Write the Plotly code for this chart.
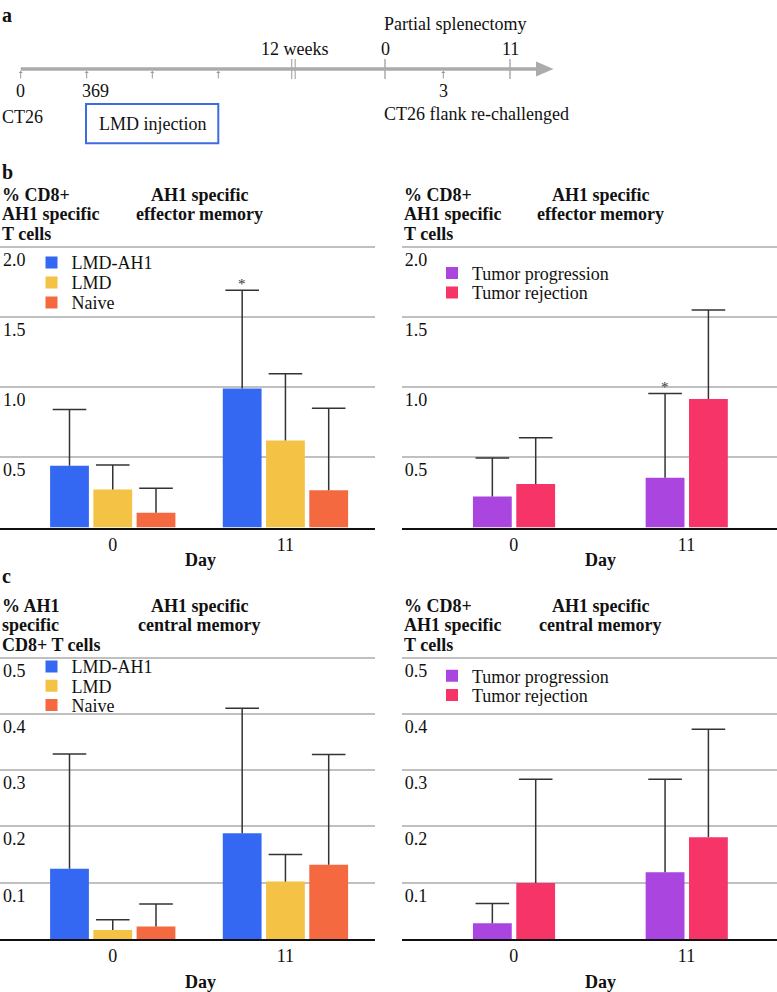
import plotly.graph_objects as go

W, H = 777, 992
FONT = "Liberation Serif"

# ---------------- data ----------------
days = ["0", "11"]

# panel b (effector memory, % CD8+ AH1 specific T cells)
b_groups = ["LMD-AH1", "LMD", "Naive"]
b_vals = [[0.44, 0.99], [0.27, 0.62], [0.105, 0.265]]
b_errs = [[0.40, 0.70], [0.175, 0.475], [0.175, 0.585]]

b2_groups = ["Tumor progression", "Tumor rejection"]
b2_vals = [[0.22, 0.355], [0.31, 0.915]]
b2_errs = [[0.275, 0.60], [0.33, 0.635]]

# panel c (central memory)
c_groups = ["LMD-AH1", "LMD", "Naive"]
c_vals = [[0.125, 0.188], [0.016, 0.102], [0.022, 0.132]]
c_errs = [[0.204, 0.222], [0.018, 0.048], [0.040, 0.196]]

c2_groups = ["Tumor progression", "Tumor rejection"]
c2_vals = [[0.028, 0.1185], [0.0995, 0.181]]
c2_errs = [[0.035, 0.1655], [0.1845, 0.192]]

b_ticks = [0.5, 1.0, 1.5, 2.0]
c_ticks = [0.1, 0.2, 0.3, 0.4, 0.5]

# timeline schematic (panel a)
inj_labels = ["0", "", "", ""]
post_labels = ["0", "11"]

# ---------------- styles ----------------
COL3 = ["#3468F2", "#F4C245", "#F4693F"]
COL2 = ["#AB45E0", "#F63467"]
OFF3 = [-0.3625, -0.112, 0.1385]
OFF2 = [-0.2365, 0.0145]
BW = 0.2247
ERRC = "#333333"
IDX = list(range(len(days)))


def xp(px):
    return px / W


def yp(py):
    return 1 - py / H


fig = go.Figure()
legend_defs = {}
leg_counter = [0]

leg_common = dict(bgcolor="rgba(0,0,0,0)", font=dict(family=FONT, size=18, color="#111"),
                  xanchor="left", yanchor="top", tracegroupgap=0, borderwidth=0)


def new_legend(x_px, center_px):
    leg_counter[0] += 1
    key = "legend" if leg_counter[0] == 1 else "legend%d" % leg_counter[0]
    legend_defs[key] = dict(x=xp(x_px), y=yp(center_px - 18.5), **leg_common)
    return key


def add_bars(groups, vals, errs, colors, offs, xa, ya, leg_x, leg_y0, leg_dy):
    for k, (g, v, e, c, o) in enumerate(zip(groups, vals, errs, colors, offs)):
        key = new_legend(leg_x, leg_y0 + k * leg_dy)
        fig.add_trace(go.Bar(
            x=IDX, y=v, name=g, marker=dict(color=c, line=dict(width=0)),
            width=BW, offset=o, xaxis=xa, yaxis=ya, legend=key,
            error_y=dict(type="data", symmetric=False, array=e,
                         arrayminus=[0] * len(e), color=ERRC,
                         thickness=1.5, width=0),
        ))
        # error-bar caps at the top end only
        fig.add_trace(go.Scatter(
            x=[i + o + BW / 2 for i in IDX], y=[a + b for a, b in zip(v, e)],
            mode="markers", xaxis=xa, yaxis=ya, showlegend=False, hoverinfo="skip",
            marker=dict(symbol="line-ew", size=24, color=ERRC,
                        line=dict(color=ERRC, width=1.5)),
        ))


add_bars(b_groups, b_vals, b_errs, COL3, OFF3, "x", "y", 31.5, 262.7, 20)
add_bars(b2_groups, b2_vals, b2_errs, COL2, OFF2, "x2", "y2", 432, 273.3, 19.4)
add_bars(c_groups, c_vals, c_errs, COL3, OFF3, "x3", "y3", 31.5, 666.7, 19.3)
add_bars(c2_groups, c2_vals, c2_errs, COL2, OFF2, "x4", "y4", 432, 676, 19.3)

# domains (pixel-measured)
L_DOM = [xp(0), xp(375)]
R_DOM = [xp(401.7), 1.0]
B_DOM = [yp(527.5), yp(245.3)]
C_DOM = [yp(939), yp(656.3)]
L_RANGE = [-0.6526, 1.519]
R_RANGE = [-0.649, 1.524]


def xax(dom, rng, anchor):
    return dict(domain=dom, range=rng, anchor=anchor, tickvals=IDX, ticktext=days,
                showgrid=False, zeroline=False, showline=True, linecolor="#111111",
                linewidth=1.5, ticks="", fixedrange=True,
                tickfont=dict(family=FONT, size=18, color="#111"))


def yax(dom, rng, tv, anchor):
    return dict(domain=dom, range=rng, anchor=anchor, tickvals=tv, tickformat=".1f",
                showgrid=True, gridcolor="#c0c0c0", gridwidth=1.5,
                zeroline=False, showline=False, ticks="", fixedrange=True,
                ticklabelposition="inside bottom", ticklabelstandoff=0,
                tickfont=dict(family=FONT, size=18, color="#111"))


fig.update_layout(
    width=W, height=H, margin=dict(l=0, r=0, t=0, b=0),
    paper_bgcolor="white", plot_bgcolor="white",
    barmode="overlay",
    font=dict(family=FONT, size=18, color="#111"),
    xaxis=xax(L_DOM, L_RANGE, "y"), yaxis=yax(B_DOM, [0, 2.01], b_ticks, "x"),
    xaxis2=xax(R_DOM, R_RANGE, "y2"), yaxis2=yax(B_DOM, [0, 2.01], b_ticks, "x2"),
    xaxis3=xax(L_DOM, L_RANGE, "y3"), yaxis3=yax(C_DOM, [0, 0.5025], c_ticks, "x3"),
    xaxis4=xax(R_DOM, R_RANGE, "y4"), yaxis4=yax(C_DOM, [0, 0.5025], c_ticks, "x4"),
    xaxis5=dict(domain=[0, 1], range=[0, W], visible=False, fixedrange=True, anchor="y5"),
    yaxis5=dict(domain=[yp(150), 1], range=[150, 0], visible=False, fixedrange=True, anchor="x5"),
    showlegend=True,
    **legend_defs,
)
fig.add_trace(go.Scatter(x=[0], y=[0], xaxis="x5", yaxis="y5", mode="markers",
                         marker=dict(opacity=0), showlegend=False, hoverinfo="skip"))

ann = []


def txt(x, y, s, size=18, bold=False, anchor="left", ref="paper", color="#111"):
    if bold:
        s = "<b>" + s + "</b>"
    d = dict(text=s, showarrow=False, font=dict(family=FONT, size=size, color=color),
             xanchor=anchor, yanchor="middle")
    if ref == "paper":
        d.update(x=xp(x), y=yp(y), xref="paper", yref="paper")
    else:
        d.update(x=x, y=y, xref="x5", yref="y5")
    ann.append(d)


# panel letters
txt(0, 15, "a", 20, True)
txt(0, 172.5, "b", 20, True)
txt(0, 576, "c", 20, True)

# panel titles
for x0, xc, lines, ctr, y0 in [
    (0, 199, ["% CD8+", "AH1 specific", "T cells"], ["AH1 specific", "effector memory"], 195),
    (402, 600, ["% CD8+", "AH1 specific", "T cells"], ["AH1 specific", "effector memory"], 195),
    (0, 199, ["% AH1", "specific", "CD8+ T cells"], ["AH1 specific", "central memory"], 606),
    (402, 600, ["% CD8+", "AH1 specific", "T cells"], ["AH1 specific", "central memory"], 606),
]:
    for i, s in enumerate(lines):
        txt(x0, y0 + i * 19.3, s, 18, True)
    for i, s in enumerate(ctr):
        txt(xc, y0 + i * 19.3, s, 18, True, anchor="center")

# Day labels
txt(200, 559.5, "Day", 18, True, anchor="center")
txt(600.7, 559.5, "Day", 18, True, anchor="center")
txt(200, 982.3, "Day", 18, True, anchor="center")
txt(600.7, 982.3, "Day", 18, True, anchor="center")

# significance asterisks (above the day-11 error bars)
ann.append(dict(text="*", x=1 + OFF3[0] + BW / 2, y=b_vals[0][1] + b_errs[0][1],
                xref="x", yref="y", yanchor="bottom", yshift=-4, showarrow=False,
                font=dict(family=FONT, size=15, color="#333")))
ann.append(dict(text="*", x=1 + OFF2[0] + BW / 2, y=b2_vals[0][1] + b2_errs[0][1],
                xref="x2", yref="y2", yanchor="bottom", yshift=-4, showarrow=False,
                font=dict(family=FONT, size=15, color="#333")))

# ---------------- timeline schematic ----------------
GRAY = "#ababab"
shapes = []
shapes.append(dict(type="line", xref="x5", yref="y5", x0=20.7, x1=540, y0=69, y1=69,
                   line=dict(color=GRAY, width=3.5)))
shapes.append(dict(type="path", xref="x5", yref="y5",
                   path="M 536,61.5 L 553.5,69 L 536,76.5 Z",
                   fillcolor=GRAY, line=dict(color=GRAY, width=0)))
for bx in [291.7, 295.2]:
    shapes.append(dict(type="line", xref="x5", yref="y5", x0=bx, x1=bx, y0=59, y1=79,
                       line=dict(color=GRAY, width=1.2)))
for tx in [385, 510]:
    shapes.append(dict(type="line", xref="x5", yref="y5", x0=tx, x1=tx, y0=59, y1=79,
                       line=dict(color=GRAY, width=1.5)))
shapes.append(dict(type="rect", xref="x5", yref="y5", x0=86, x1=218.3, y0=104, y1=143.3,
                   line=dict(color="#3D6CE0", width=2), fillcolor="rgba(0,0,0,0)"))

# small arrows (pointing up at the line)
for ax_x in [20.7, 86.7, 152.3, 218.3, 443.3]:
    ann.append(dict(x=ax_x, y=71, xref="x5", yref="y5", ax=0, ay=9,
                    text="", showarrow=True, arrowhead=1, arrowsize=0.7, arrowwidth=1,
                    arrowcolor="#999999"))

txt(20.7, 90.5, inj_labels[0], 18, anchor="center", ref="x5")
txt(95.7, 90.5, "369", 18, anchor="center", ref="x5")
txt(443.3, 90.5, "3", 18, anchor="center", ref="x5")
txt(0, 116.5, "CT26", 18, ref="x5")
txt(152.2, 123.5, "LMD injection", 18, anchor="center", ref="x5")
txt(294, 49, "12 weeks", 18, anchor="center", ref="x5")
for px, lab in zip([385, 510], post_labels):
    txt(px, 49, lab, 18, anchor="center", ref="x5")
txt(381.7, 24, "Partial splenectomy", 18, ref="x5")
txt(381.7, 114.3, "CT26 flank re-challenged", 18, ref="x5")

fig.update_layout(annotations=ann, shapes=shapes)
fig.write_html("out.html", config={"displayModeBar": False},
               post_script="document.body.style.margin='0px';")
